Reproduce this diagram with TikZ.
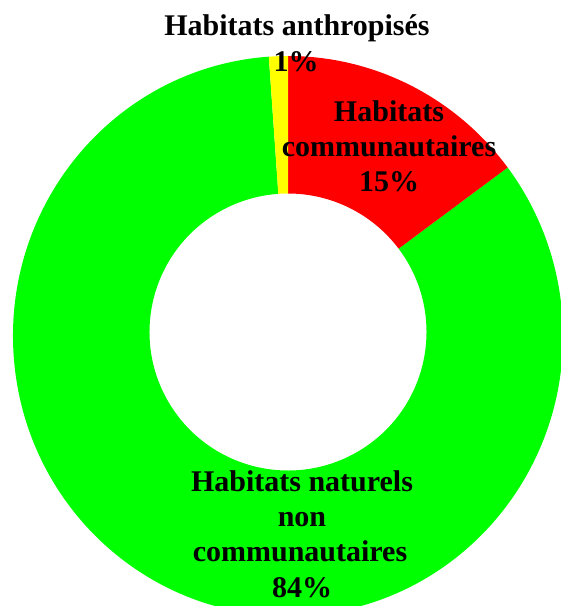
\documentclass[tikz,border=0pt]{standalone}
\usepackage{fontspec}
\setmainfont{Liberation Serif}
\usetikzlibrary{calc}
\definecolor{grn}{RGB}{0,255,0}
\definecolor{rd}{RGB}{255,0,0}
\definecolor{yl}{RGB}{255,255,0}
\begin{document}
\begin{tikzpicture}[
  lbl/.style={anchor=base, inner sep=0pt, font=\fontsize{30}{35}\selectfont\bfseries, text=black}
]
\useasboundingbox (0pt,0pt) rectangle (561pt,606pt);
\clip (0pt,0pt) rectangle (561pt,606pt);
\coordinate (C) at (288pt,274pt);
\coordinate (O) at (288pt,270pt);
% green slice (84%)
\fill[grn] ($(O)+(94:275pt and 280pt)$) arc[start angle=94, end angle=397, x radius=275pt, y radius=280pt]
  -- ($(C)+(37:138.5pt)$) arc[start angle=397, end angle=94, radius=138.5pt] -- cycle;
% red slice (15%)
\fill[rd] ($(O)+(37:275pt and 280pt)$) arc[start angle=37, end angle=90, x radius=275pt, y radius=280pt]
  -- ($(C)+(90:138.5pt)$) arc[start angle=90, end angle=37, radius=138.5pt] -- cycle;
% yellow slice (1%)
\fill[yl] ($(O)+(90:275pt and 280pt)$) arc[start angle=90, end angle=94, x radius=275pt, y radius=280pt]
  -- ($(C)+(94:138.5pt)$) arc[start angle=94, end angle=90, radius=138.5pt] -- cycle;
% labels
\node[lbl] (t1) at (297pt,570pt) {Habitats anthropisés};
\node[lbl] (t2) at (296pt,534pt) {1\%};
\node[lbl] (r1) at (389pt,484pt) {Habitats};
\node[lbl] (r2) at (389pt,449pt) {communautaires};
\node[lbl] (r3) at (389pt,414pt) {15\%};
\node[lbl] (g1) at (302pt,114pt) {Habitats naturels};
\node[lbl] (g2) at (302pt,79pt) {non};
\node[lbl] (g3) at (300pt,44pt) {communautaires};
\node[lbl] (g4) at (302pt,9pt) {84\%};
\end{tikzpicture}
\end{document}
